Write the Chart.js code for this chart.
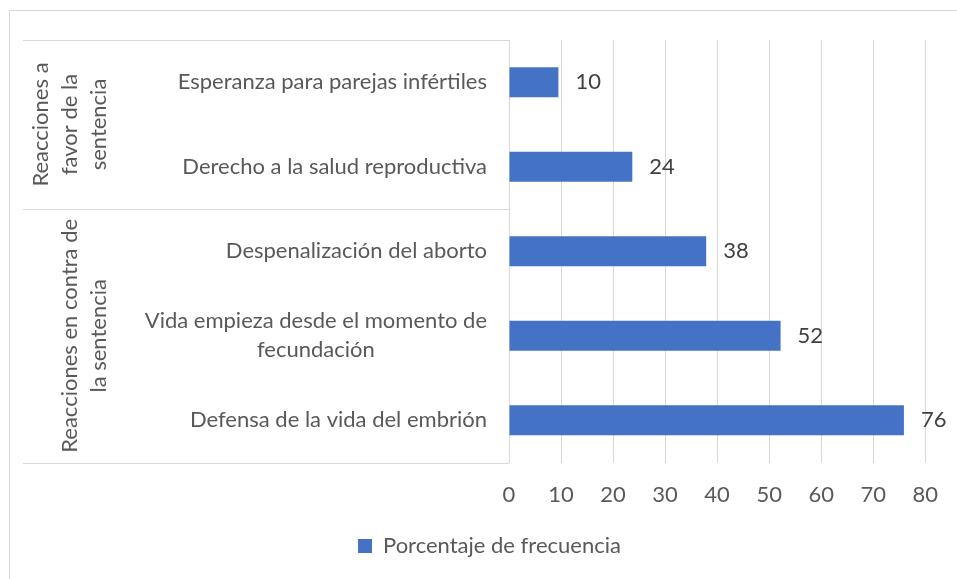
<!DOCTYPE html>
<html>
<head>
<meta charset="utf-8">
<script src="https://cdn.jsdelivr.net/npm/chart.js@4.4.0/dist/chart.umd.min.js"></script>
<style>
  html, body { margin: 0; padding: 0; background: #ffffff; }
  #wrap { position: relative; width: 957px; height: 579px; }
</style>
</head>
<body>
<div id="wrap"><canvas id="chart"></canvas></div>
<script>
// Categories, top to bottom (multi-line labels as arrays)
const categories = [
  "Esperanza para parejas infértiles",
  "Derecho a la salud reproductiva",
  "Despenalización del aborto",
  ["Vida empieza desde el momento de", "fecundación"],
  "Defensa de la vida del embrión"
];

// Outer category groups and how many categories each spans
const groupNames = [
  ["Reacciones a", "favor de la", "sentencia"],
  ["Reacciones en contra de", "la sentencia"]
];
const groupSizes = [2, 3];

const seriesName = "Porcentaje de frecuencia";
const values = [9.5, 23.7, 37.9, 52.2, 75.9];

const xMin = 0;
const xMax = 80;
const xStep = 10;

const FONT = "Lato, 'Open Sans', sans-serif";
const FSIZE = 22;
const TEXT = "#595959";
const LINE = "#d9d9d9";
const BAR = "#4472c4";

// frame, category table, group labels and value labels
const extras = {
  id: "extras",
  beforeDraw(chart) {
    const ctx = chart.ctx;
    ctx.save();
    ctx.strokeStyle = LINE;
    ctx.lineWidth = 1;
    ctx.strokeRect(9.5, 10.5, 3000, 3000);
    ctx.restore();
  },
  afterLayout(chart) {
    // put the legend where the original sits
    const lg = chart.legend;
    const want = 358;
    lg.left = 0;
    lg.right = 2 * want + lg.lineWidths[0] - 10;
    lg.top = 546 - 10 - FSIZE / 2;
    lg.bottom = lg.top + 42;
  },
  afterDraw(chart) {
    const ctx = chart.ctx;
    const area = chart.chartArea;
    const yScale = chart.scales.y;
    const lineH = 29;

    ctx.save();
    // category labels
    ctx.font = FSIZE + "px " + FONT;
    ctx.fillStyle = TEXT;
    ctx.textBaseline = "middle";
    ctx.textAlign = "center";
    const rightEdge = area.left - 22;
    categories.forEach(function(lab, i) {
      const lines = Array.isArray(lab) ? lab : [lab];
      const w = Math.max.apply(null, lines.map(l => ctx.measureText(l).width));
      const cx = rightEdge - w / 2;
      const cy = yScale.getPixelForValue(i);
      lines.forEach(function(l, k) {
        ctx.fillText(l, cx, cy + (k - (lines.length - 1) / 2) * lineH);
      });
    });

    // table lines
    ctx.strokeStyle = LINE;
    ctx.lineWidth = 1;
    const edges = [area.top];
    let idx = 0;
    groupSizes.forEach(function(n) {
      idx += n;
      if (idx < categories.length) {
        edges.push((yScale.getPixelForValue(idx - 1) + yScale.getPixelForValue(idx)) / 2);
      } else {
        edges.push(area.bottom);
      }
    });
    edges.forEach(function(y) {
      const yy = Math.round(y) + 0.5;
      ctx.beginPath();
      ctx.moveTo(23, yy);
      ctx.lineTo(area.left, yy);
      ctx.stroke();
    });

    // group labels, rotated
    ctx.textAlign = "center";
    ctx.textBaseline = "alphabetic";
    groupNames.forEach(function(lines, g) {
      const cy = (edges[g] + edges[g + 1]) / 2;
      lines.forEach(function(l, k) {
        const bx = 106 - (lines.length - 1 - k) * lineH;
        ctx.save();
        ctx.translate(bx, cy);
        ctx.rotate(-Math.PI / 2);
        ctx.fillText(l, 0, 0);
        ctx.restore();
      });
    });

    // value labels
    ctx.fillStyle = "#404040";
    ctx.textAlign = "left";
    ctx.textBaseline = "middle";
    const meta = chart.getDatasetMeta(0);
    meta.data.forEach(function(bar, i) {
      ctx.fillText(String(Math.round(values[i])), bar.x + 17, bar.y);
    });
    ctx.restore();
  }
};

new Chart(document.getElementById("chart"), {
  type: "bar",
  data: {
    labels: categories,
    datasets: [{
      label: seriesName,
      data: values,
      backgroundColor: BAR,
      borderWidth: 0,
      barPercentage: 0.355,
      categoryPercentage: 1
    }]
  },
  options: {
    indexAxis: "y",
    responsive: true,
    maintainAspectRatio: false,
    animation: false,
    layout: { padding: { left: 0, right: 29, top: 40, bottom: 10 } },
    plugins: {
      tooltip: { enabled: false },
      legend: {
        position: "bottom",
        labels: {
          boxWidth: 14,
          boxHeight: 14,
          color: TEXT,
          font: { family: FONT, size: FSIZE }
        }
      }
    },
    scales: {
      x: {
        min: xMin,
        max: xMax,
        ticks: {
          stepSize: xStep,
          color: TEXT,
          padding: 19,
          font: { family: FONT, size: FSIZE }
        },
        grid: { color: LINE, lineWidth: 1, drawTicks: false },
        border: { display: false }
      },
      y: {
        ticks: { display: false },
        grid: { display: false },
        border: { display: true, color: LINE },
        afterFit: function(scale) { scale.width = 509; }
      }
    }
  },
  plugins: [extras]
});
</script>
</body>
</html>
